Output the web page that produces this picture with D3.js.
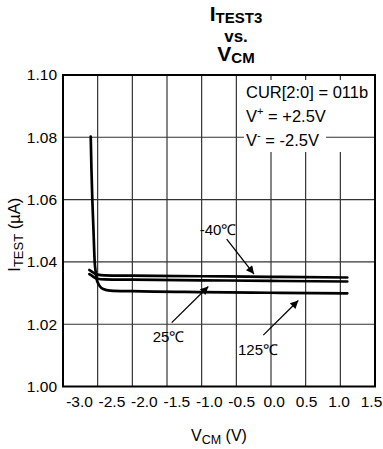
<!DOCTYPE html>
<html><head><meta charset="utf-8">
<script src="https://cdn.jsdelivr.net/npm/d3@7"></script>
<style>
body{margin:0;background:#fff}
svg{display:block}
text{font-family:"Liberation Sans",Arial,sans-serif;fill:#000}
</style></head>
<body><svg id="c" width="383" height="449"></svg>
<script>
// ---- data ----
const xTicks = [-3.0,-2.5,-2.0,-1.5,-1.0,-0.5,0.0,0.5,1.0,1.5];
const xTickLabels = ["-3.0","-2.5","-2.0","-1.5","-1.0","-0.5","0.0","0.5","1.0","1.5"];
const yTicks = [1.00,1.02,1.04,1.06,1.08,1.10];
const yTickLabels = ["1.00","1.02","1.04","1.06","1.08","1.10"];

const vcmM40 = [-2.62,-2.58,-2.54,-2.5,-2.4,-2.0,-1.0,0.0,1.1];
const iM40   = [1.0374,1.0368,1.0362,1.0359,1.0357,1.0356,1.0354,1.0352,1.0350];

const vcm25 = [-2.62,-2.58,-2.54,-2.5,-2.4,-2.0,-1.0,0.0,1.1];
const i25   = [1.0361,1.0355,1.0349,1.0346,1.0344,1.0343,1.0341,1.0339,1.0337];

const vcm125 = [-2.6,-2.59,-2.577,-2.56,-2.543,-2.53,-2.515,-2.49,-2.466,-2.42,-2.32,-2.0,-1.0,0.0,1.1];
const i125   = [1.0802,1.07,1.06,1.05,1.04,1.037,1.0345,1.033,1.0321,1.0313,1.0308,1.0306,1.0303,1.0301,1.0299];

const annLabels = ["-40℃","25℃","125℃"];
const annLabelPos = [[-0.764,1.0487],[-1.478,1.0143],[-0.187,1.0101]];
const annArrowFrom = [[-0.639,1.0473],[-1.432,1.0205],[-0.111,1.0165]];
const annArrowTo = [[-0.245,1.0361],[-0.904,1.0321],[0.394,1.0276]];

// ---- chart ----
const svg = d3.select("#c");
const L=63,R=375,T=75,B=386.5;
const x = d3.scaleLinear().domain([-3,1.5]).range([L,R]);
const y = d3.scaleLinear().domain([1.0,1.1]).range([B,T]);
// tick labels of the original are set slightly tighter than the grid
const xLab = d3.scalePoint().domain(xTickLabels).range([79,371]);

// vertical grid
svg.append("g").selectAll("line").data(xTicks.slice(1,-1)).join("line")
  .attr("x1",d=>x(d)).attr("x2",d=>x(d)).attr("y1",T).attr("y2",B)
  .attr("stroke","#222").attr("stroke-width",1.1);

// legend background
svg.append("rect").attr("x",243).attr("y",80).attr("width",131).attr("height",72).attr("fill","#fff");

// horizontal grid
svg.append("g").selectAll("line").data(yTicks.slice(1,-1)).join("line")
  .attr("x1",L).attr("x2",R).attr("y1",d=>y(d)).attr("y2",d=>y(d))
  .attr("stroke","#333").attr("stroke-width",1.1);

svg.append("rect").attr("x",244).attr("y",129).attr("width",82).attr("height",20).attr("fill","#fff");

// legend text
const lg = svg.append("g").attr("font-size",16.5);
lg.append("text").attr("x",246).attr("y",98).text("CUR[2:0] = 011b");
const l2 = lg.append("text").attr("x",246).attr("y",122);
l2.append("tspan").text("V");
l2.append("tspan").attr("font-size",11).attr("dy",-7).text("+");
l2.append("tspan").attr("dy",7).text(" = +2.5V");
const l3 = lg.append("text").attr("x",246).attr("y",146);
l3.append("tspan").text("V");
l3.append("tspan").attr("font-size",11).attr("dy",-7).text("-");
l3.append("tspan").attr("dy",7).text(" = -2.5V");

// border
svg.append("rect").attr("x",L).attr("y",T).attr("width",R-L).attr("height",B-T)
  .attr("fill","none").attr("stroke","#000").attr("stroke-width",2);

// axes
const yAx = svg.append("g").attr("transform",`translate(${L},0)`)
  .call(d3.axisLeft(y).tickValues(yTicks).tickSize(0).tickPadding(6).tickFormat((d,i)=>yTickLabels[i]));
yAx.select(".domain").remove();
yAx.selectAll("text").attr("font-size",15.5).attr("font-family","Liberation Sans, Arial, sans-serif");
const xAx = svg.append("g").attr("transform",`translate(0,${B})`)
  .call(d3.axisBottom(xLab).tickSize(0).tickPadding(9));
xAx.select(".domain").remove();
xAx.selectAll("text").attr("font-size",15.5).attr("font-family","Liberation Sans, Arial, sans-serif");

// curves
const line = d3.line().x(d=>x(d[0])).y(d=>y(d[1])).curve(d3.curveMonotoneX);
[[vcmM40,iM40],[vcm25,i25],[vcm125,i125]].forEach(([xs,ys])=>{
  svg.append("path").datum(xs.map((v,i)=>[v,ys[i]])).attr("d",line)
    .attr("fill","none").attr("stroke","#000").attr("stroke-width",2.7).attr("stroke-linecap","round");
});

// annotations
const defs = svg.append("defs");
defs.append("marker").attr("id","ah").attr("viewBox","0 0 10 10").attr("refX",10).attr("refY",5)
  .attr("markerWidth",11).attr("markerHeight",8).attr("markerUnits","userSpaceOnUse").attr("orient","auto")
  .append("path").attr("d","M0,0L10,5L0,10Z").attr("fill","#000");
annLabels.forEach((t,i)=>{
  svg.append("line")
    .attr("x1",x(annArrowFrom[i][0])).attr("y1",y(annArrowFrom[i][1]))
    .attr("x2",x(annArrowTo[i][0])).attr("y2",y(annArrowTo[i][1]))
    .attr("stroke","#000").attr("stroke-width",1.3).attr("marker-end","url(#ah)");
  svg.append("text").attr("x",x(annLabelPos[i][0])).attr("y",y(annLabelPos[i][1]))
    .attr("text-anchor","middle").attr("font-size",15).text(t);
});

// axis titles
const yt = svg.append("text").attr("transform",`translate(20,${(T+B)/2+4}) rotate(-90)`)
  .attr("text-anchor","middle").attr("font-size",16.5);
yt.append("tspan").text("I");
yt.append("tspan").attr("font-size",13).attr("dy",3).text("TEST");
yt.append("tspan").attr("dy",-3).text(" (µA)");
const xt = svg.append("text").attr("x",(L+R)/2).attr("y",441).attr("text-anchor","middle").attr("font-size",16);
xt.append("tspan").text("V");
xt.append("tspan").attr("font-size",12.5).attr("dy",3).text("CM");
xt.append("tspan").attr("dy",-3).text(" (V)");

// title
const tg = svg.append("g").attr("font-weight","bold").attr("text-anchor","middle");
const t1 = tg.append("text").attr("x",236).attr("y",21).attr("font-size",21);
t1.append("tspan").text("I");
t1.append("tspan").attr("font-size",15).attr("dy",2).text("TEST3");
tg.append("text").attr("x",236).attr("y",42).attr("font-size",17).text("vs.");
const t3 = tg.append("text").attr("x",236).attr("y",61).attr("font-size",21);
t3.append("tspan").text("V");
t3.append("tspan").attr("font-size",15).attr("dy",2).text("CM");
</script></body></html>
